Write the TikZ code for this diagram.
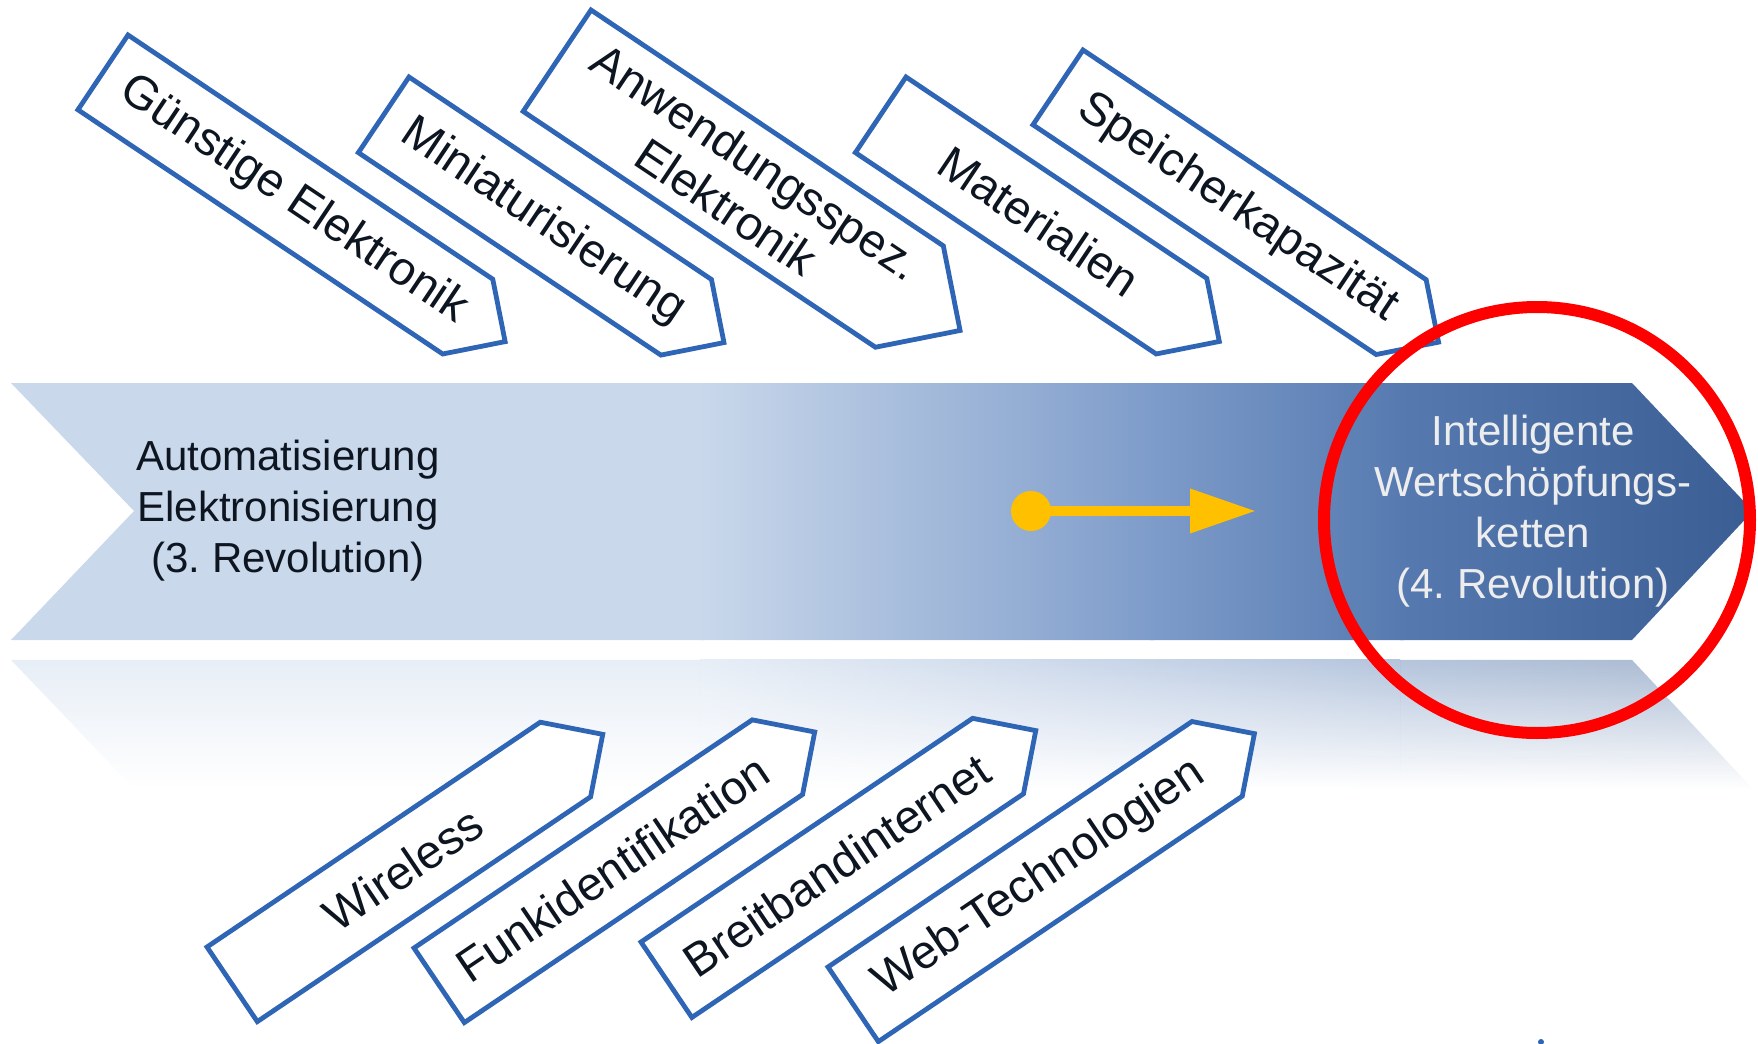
\documentclass[tikz,border=0pt]{standalone}
\usepackage[x11names]{xcolor}
\usepackage{fontspec}
\setmainfont{Liberation Sans}
\usepackage{tikz}
\usetikzlibrary{arrows.meta,fadings}

\definecolor{bandhell}{RGB}{201,216,235}
\definecolor{bandmitte}{RGB}{126,156,202}
\definecolor{bandtief}{RGB}{86,122,176}
\definecolor{banddunkel}{RGB}{58,94,148}
\definecolor{schildblau}{RGB}{47,101,181}
\definecolor{pfeilgelb}{RGB}{255,192,0}
\definecolor{textdunkel}{RGB}{13,21,32}

\tikzfading[name=spiegel, top color=transparent!56, bottom color=transparent!100]

\tikzset{
  schild/.style={draw=schildblau, line width=2.4pt, fill=white, line join=miter},
  schildtext/.style={text=textdunkel, align=center, font=\fontsize{23.5}{27}\selectfont, inner sep=0pt},
  bandtext/.style={align=center, font=\fontsize{21}{25.5}\selectfont, inner sep=0pt}
}

\begin{document}
\begin{tikzpicture}[x=0.5pt, y=-0.5pt]
      \useasboundingbox (0,0) rectangle (1758,1044);
      %Reflection
      \fill[bandhell, path fading=spiegel] (11,660) -- (700,660) -- (700,789) -- (134,789) -- cycle;
      \shade[left color=bandhell, right color=bandmitte, path fading=spiegel] (700,660) rectangle (1150,789);
      \shade[left color=bandmitte, right color=bandtief, path fading=spiegel] (1150,660) rectangle (1400,789);
      \shade[left color=bandtief, right color=banddunkel, path fading=spiegel] (1400,660) -- (1632,660) -- (1753,789) -- (1400,789) -- cycle;
      %Band
      \begin{scope}
	\clip (11,383) -- (1632,383) -- (1753,511) -- (1632,640) -- (11,640) -- (134,511) -- cycle;
	\fill[bandhell] (0,370) rectangle (704,650);
	\shade[left color=bandhell, right color=bandmitte] (700,370) rectangle (1154,650);
	\shade[left color=bandmitte, right color=bandtief] (1150,370) rectangle (1404,650);
	\shade[left color=bandtief, right color=banddunkel] (1400,370) rectangle (1753,650);
      \end{scope}
      %Band labels
      \node[bandtext, text=textdunkel] (alt) at (288,511) {Automatisierung\\Elektronisierung\\(3.~Revolution)};
      \node[bandtext, text=white!93!black] (neu) at (1533,511) {Intelligente\\Wertschöpfungs-\\ketten\\(4.~Revolution)};
      %Yellow arrow
      \node[circle, fill=pfeilgelb, minimum size=20pt, inner sep=0pt] (punkt) at (1031,511) {};
      \coordinate (spitze) at (1256,511);
      \draw[pfeilgelb, line width=5pt, -{Triangle[length=33pt, width=21pt]}] (punkt.center) -- (spitze);
      %Upper tags
      \foreach \x/\y/\len/\wid/\name/\txt in {128/35/439/90/guenstig/Günstige Elektronik, 409/77/364/91/mini/Miniaturisierung, 591/10/424/122/anwend/Anwendungsspez.\\Elektronik, 906/77/362/91/material/Materialien, 1083/50/413/90/speicher/Speicherkapazität}
      {
	\begin{scope}[shift={(\x,\y)}, rotate=-33.8]
	  \draw[schild] (0,0) -- (\len,0) -- ({\len+\wid/2},{\wid/2}) -- (\len,\wid) -- (0,\wid) -- cycle;
	  \node[schildtext, rotate=-33.8] (\name) at ({\len/2+10},{\wid/2}) {\txt};
	\end{scope}
      }
      %Lower tags
      \foreach \x/\y/\len/\wid/\name/\txt in {207/947/402/90/wireless/Wireless, 414/948/408/90/funk/Funkidentifikation, 641/942/400/91/breitband/Breitbandinternet, 828/967/439/90/web/Web-Technologien}
      {
	\begin{scope}[shift={(\x,\y)}, rotate=34]
	  \draw[schild] (0,0) -- (\len,0) -- ({\len+\wid/2},{\wid/2}) -- (\len,\wid) -- (0,\wid) -- cycle;
	  \node[schildtext, rotate=34] (\name) at ({\len/2+5},{\wid/2}) {\txt};
	\end{scope}
      }
      %Red circle
      \draw[red, line width=6pt] (1537,520) circle (213);
      \fill[schildblau] (1541,1042) circle (3);
\end{tikzpicture}
\end{document}
